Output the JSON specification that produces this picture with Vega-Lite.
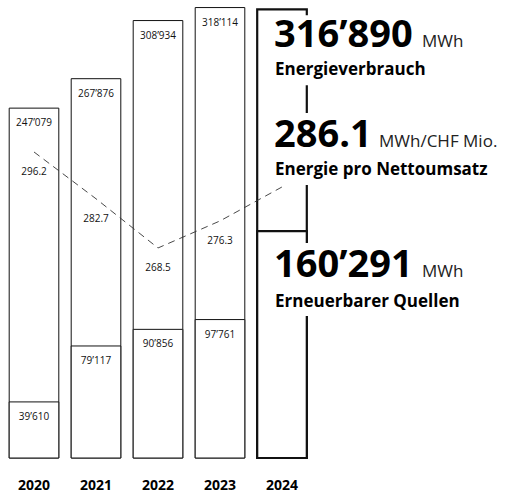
{
  "$schema": "https://vega.github.io/schema/vega-lite/v6.json",
  "width": 310,
  "height": 458,
  "autosize": {"type": "none"},
  "padding": {"left": 3, "top": 0, "right": 203, "bottom": 40},
  "data": {
    "values": [
      {"year": 2020, "total": 247079, "renewable": 39610, "intensity": 296.2},
      {"year": 2021, "total": 267876, "renewable": 79117, "intensity": 282.7},
      {"year": 2022, "total": 308934, "renewable": 90856, "intensity": 268.5},
      {"year": 2023, "total": 318114, "renewable": 97761, "intensity": 276.3},
      {"year": 2024, "total": 316890, "renewable": 160291, "intensity": 286.1}
    ]
  },
  "encoding": {
    "x": {
      "field": "year",
      "type": "ordinal",
      "scale": {"paddingInner": 0.2, "paddingOuter": 0.1},
      "axis": {
        "title": null,
        "domain": false,
        "ticks": false,
        "labelAngle": 0,
        "labelFont": "Open Sans",
        "labelFontWeight": "bold",
        "labelFontSize": 14,
        "labelColor": "#000",
        "labelPadding": 20
      }
    }
  },
  "layer": [
    {
      "layer": [
        {
          "mark": {"type": "bar", "fill": "white", "stroke": "#111"},
          "encoding": {
            "y": {"field": "total", "type": "quantitative", "scale": {"domain": [0, 323450], "nice": false}, "axis": null},
            "strokeWidth": {"condition": {"test": "datum.year == 2024", "value": 2.2}, "value": 1}
          }
        },
        {
          "mark": {"type": "bar", "fill": "white", "stroke": "#111"},
          "encoding": {
            "y": {"field": "renewable", "type": "quantitative", "scale": {"domain": [0, 323450], "nice": false}, "axis": null},
            "strokeWidth": {"condition": {"test": "datum.year == 2024", "value": 2.2}, "value": 1}
          }
        },
        {
          "transform": [{"filter": "datum.year != 2024"}],
          "mark": {"type": "text", "font": "Open Sans", "fontSize": 10, "dy": 15, "color": "#111"},
          "encoding": {
            "y": {"field": "total", "type": "quantitative"},
            "text": {"field": "total", "type": "quantitative", "format": ",d"}
          }
        },
        {
          "transform": [{"filter": "datum.year != 2024"}],
          "mark": {"type": "text", "font": "Open Sans", "fontSize": 10, "dy": 15, "color": "#111"},
          "encoding": {
            "y": {"field": "renewable", "type": "quantitative"},
            "text": {"field": "renewable", "type": "quantitative", "format": ",d"}
          }
        },
        {
          "transform": [{"filter": "datum.year == 2024"}],
          "mark": {"type": "rect", "fill": "white", "xOffset": 20, "yOffset": 6, "y2Offset": 76},
          "encoding": {
            "y": {"field": "total", "type": "quantitative"},
            "y2": {"field": "total"}
          }
        },
        {
          "transform": [{"filter": "datum.year == 2024"}],
          "mark": {"type": "rect", "fill": "white", "xOffset": 20, "yOffset": 12, "y2Offset": 85},
          "encoding": {
            "y": {"field": "renewable", "type": "quantitative"},
            "y2": {"field": "renewable"}
          }
        },
        {
          "transform": [{"filter": "datum.year == 2024"}],
          "mark": {"type": "text", "align": "left", "baseline": "alphabetic", "font": "Open Sans", "fontWeight": "bold", "fontSize": 38, "dx": -8, "dy": 38, "color": "#000"},
          "encoding": {
            "y": {"field": "total", "type": "quantitative"},
            "text": {"field": "total", "type": "quantitative", "format": ",d"}
          }
        },
        {
          "transform": [{"filter": "datum.year == 2024"}],
          "mark": {"type": "text", "align": "left", "baseline": "alphabetic", "font": "Open Sans", "fontSize": 17, "dx": 140, "dy": 38, "color": "#222", "text": "MWh"},
          "encoding": {
            "y": {"field": "total", "type": "quantitative"}
          }
        },
        {
          "transform": [{"filter": "datum.year == 2024"}],
          "mark": {"type": "text", "align": "left", "baseline": "alphabetic", "font": "Open Sans", "fontWeight": "bold", "fontSize": 17, "dx": -7, "dy": 66, "color": "#000", "text": "Energieverbrauch"},
          "encoding": {
            "y": {"field": "total", "type": "quantitative"}
          }
        },
        {
          "transform": [{"filter": "datum.year == 2024"}],
          "mark": {"type": "text", "align": "left", "baseline": "alphabetic", "font": "Open Sans", "fontWeight": "bold", "fontSize": 38, "dx": -8, "dy": 46, "color": "#000"},
          "encoding": {
            "y": {"field": "renewable", "type": "quantitative"},
            "text": {"field": "renewable", "type": "quantitative", "format": ",d"}
          }
        },
        {
          "transform": [{"filter": "datum.year == 2024"}],
          "mark": {"type": "text", "align": "left", "baseline": "alphabetic", "font": "Open Sans", "fontSize": 17, "dx": 140, "dy": 46, "color": "#222", "text": "MWh"},
          "encoding": {
            "y": {"field": "renewable", "type": "quantitative"}
          }
        },
        {
          "transform": [{"filter": "datum.year == 2024"}],
          "mark": {"type": "text", "align": "left", "baseline": "alphabetic", "font": "Open Sans", "fontWeight": "bold", "fontSize": 17, "dx": -7, "dy": 76, "color": "#000", "text": "Erneuerbarer Quellen"},
          "encoding": {
            "y": {"field": "renewable", "type": "quantitative"}
          }
        }
      ]
    },
    {
      "layer": [
        {
          "mark": {"type": "line", "strokeDash": [7, 5], "stroke": "#333", "strokeWidth": 0.9},
          "encoding": {
            "y": {"field": "intensity", "type": "quantitative", "scale": {"domain": [207.9, 340.05], "nice": false, "zero": false}, "axis": null}
          }
        },
        {
          "transform": [{"filter": "datum.year != 2024"}],
          "mark": {"type": "text", "font": "Open Sans", "fontSize": 10, "dy": 20, "color": "#111"},
          "encoding": {
            "y": {"field": "intensity", "type": "quantitative"},
            "text": {"field": "intensity", "type": "quantitative", "format": ".1f"}
          }
        },
        {
          "transform": [{"filter": "datum.year == 2024"}],
          "mark": {"type": "rect", "fill": "white", "xOffset": 20, "yOffset": -74, "y2Offset": -2},
          "encoding": {
            "y": {"field": "intensity", "type": "quantitative"},
            "y2": {"field": "intensity"}
          }
        },
        {
          "transform": [{"filter": "datum.year == 2024"}],
          "mark": {"type": "text", "align": "left", "baseline": "alphabetic", "font": "Open Sans", "fontWeight": "bold", "fontSize": 38, "dx": -8, "dy": -40, "color": "#000"},
          "encoding": {
            "y": {"field": "intensity", "type": "quantitative"},
            "text": {"field": "intensity", "type": "quantitative", "format": ".1f"}
          }
        },
        {
          "transform": [{"filter": "datum.year == 2024"}],
          "mark": {"type": "text", "align": "left", "baseline": "alphabetic", "font": "Open Sans", "fontSize": 17, "dx": 97, "dy": -40, "color": "#222", "text": "MWh/CHF Mio."},
          "encoding": {
            "y": {"field": "intensity", "type": "quantitative"}
          }
        },
        {
          "transform": [{"filter": "datum.year == 2024"}],
          "mark": {"type": "text", "align": "left", "baseline": "alphabetic", "font": "Open Sans", "fontWeight": "bold", "fontSize": 17, "dx": -7, "dy": -12, "color": "#000", "text": "Energie pro Nettoumsatz"},
          "encoding": {
            "y": {"field": "intensity", "type": "quantitative"}
          }
        }
      ]
    }
  ],
  "resolve": {"scale": {"y": "independent"}},
  "config": {
    "view": {"stroke": null},
    "locale": {"number": {"decimal": ".", "thousands": "’", "grouping": [3], "currency": ["", ""]}}
  }
}
